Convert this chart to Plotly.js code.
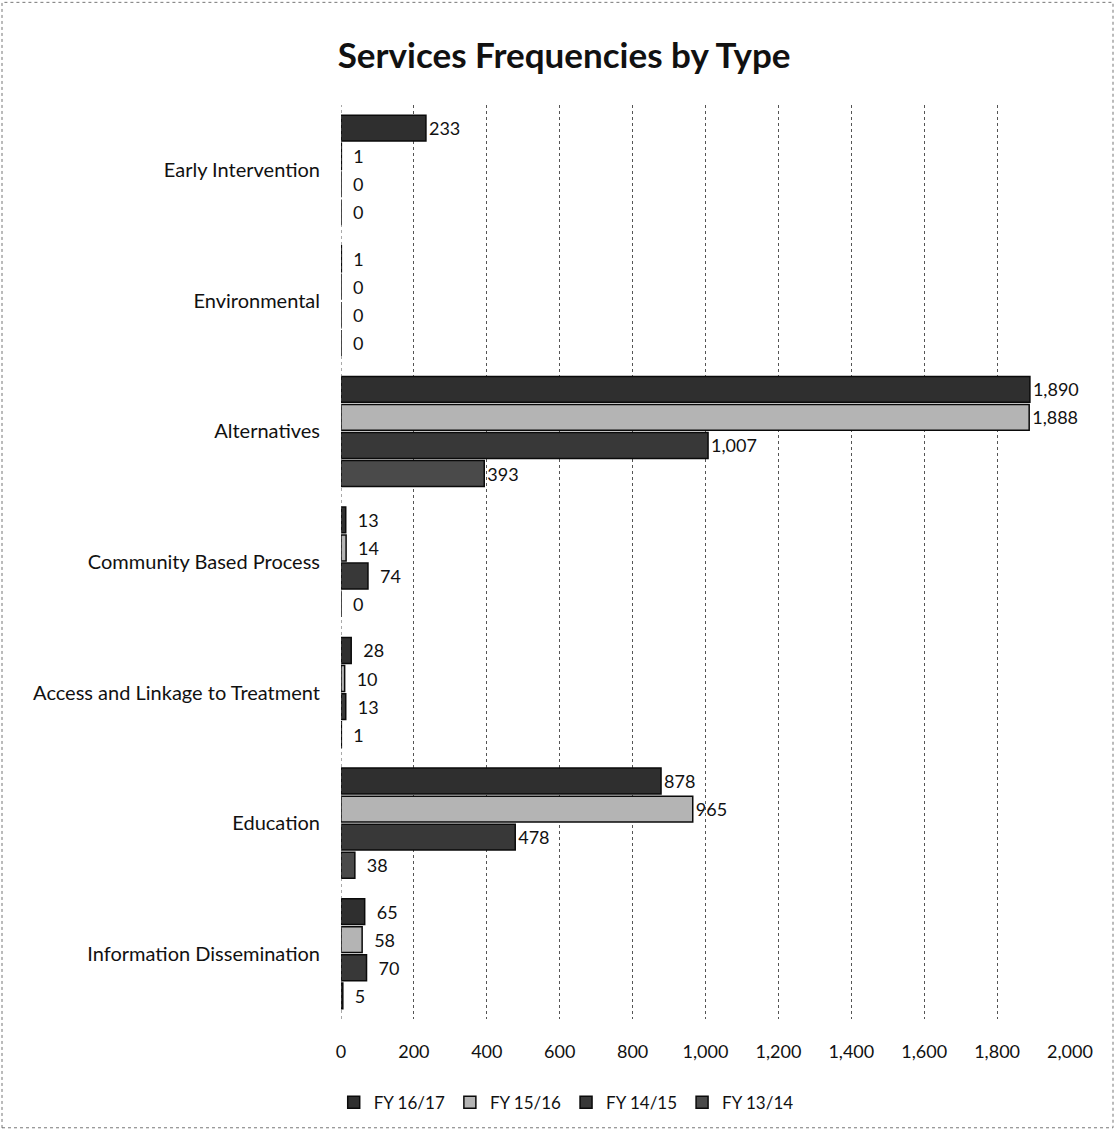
<!DOCTYPE html>
<html>
<head>
<meta charset="utf-8">
<script src="https://cdn.plot.ly/plotly-3.0.1.min.js"></script>
<style>
  html, body { margin: 0; padding: 0; background: #ffffff; }
  #chart { width: 1117px; height: 1133px; }
</style>
</head>
<body>
<div id="chart"></div>
<script>
// Service types, listed top to bottom
const categories = [
  "Early Intervention",
  "Environmental",
  "Alternatives",
  "Community Based Process",
  "Access and Linkage to Treatment",
  "Education",
  "Information Dissemination"
];

// Fiscal-year series (drawn top to bottom within each group)
const seriesNames = ["FY 16/17", "FY 15/16", "FY 14/15", "FY 13/14"];
const fy1617 = [233, 1, 1890, 13, 28, 878, 65];
const fy1516 = [1, 0, 1888, 14, 10, 965, 58];
const fy1415 = [0, 0, 1007, 74, 13, 478, 70];
const fy1314 = [0, 0, 393, 0, 1, 38, 5];

const xTicks = [0, 200, 400, 600, 800, 1000, 1200, 1400, 1600, 1800, 2000];

const seriesValues = [fy1617, fy1516, fy1415, fy1314];
const fills = ["#2f2f2f", "#b4b4b4", "#383838", "#4a4a4a"];

const baseFont = "Lato, 'Open Sans', 'DejaVu Sans', sans-serif";

// short bars get a little extra room before their value label
const labelFor = v => (v < 100 ? "\u2002" : "") + v.toLocaleString("en-US");

const traces = seriesNames.map((name, i) => ({
  type: "bar",
  orientation: "h",
  name: name,
  y: categories,
  x: seriesValues[i],
  text: seriesValues[i].map(labelFor),
  texttemplate: "%{text}",
  textposition: "outside",
  cliponaxis: false,
  textfont: { family: baseFont, size: 18, color: "#111111" },
  marker: {
    color: fills[i],
    line: { color: "#0a0a0a", width: 1.5 }
  },
  hoverinfo: "skip"
}));

const layout = {
  width: 1117,
  height: 1133,
  paper_bgcolor: "#ffffff",
  plot_bgcolor: "#ffffff",
  font: { family: baseFont, size: 17, color: "#111111" },
  title: {
    text: "<b>Services Frequencies by Type</b>",
    font: { family: baseFont, size: 35, color: "#111111" },
    x: 0.505,
    xanchor: "center",
    y: 0.951,
    yanchor: "middle"
  },
  margin: { l: 341, r: 47, t: 105, b: 111 },
  barmode: "group",
  bargap: 0.14,
  bargroupgap: 0.08,
  showlegend: true,
  legend: {
    orientation: "h",
    x: -0.01,
    xanchor: "left",
    y: -0.072,
    yanchor: "top",
    font: { family: baseFont, size: 17, color: "#111111" },
    traceorder: "normal",
    itemwidth: 30
  },
  xaxis: {
    range: [0, 2000],
    tickvals: xTicks,
    ticktext: xTicks.map(v => v.toLocaleString("en-US")),
    showgrid: true,
    gridcolor: "#555555",
    gridwidth: 1,
    griddash: "dot",
    zeroline: false,
    showline: false,
    ticks: "",
    ticklen: 0,
    ticklabelstandoff: 20,
    tickfont: { family: baseFont, size: 18, color: "#111111" },
    fixedrange: true
  },
  yaxis: {
    autorange: "reversed",
    showgrid: false,
    zeroline: false,
    showline: false,
    ticks: "",
    ticklabelstandoff: 20,
    tickfont: { family: baseFont, size: 20, color: "#111111" },
    fixedrange: true
  },
  shapes: [
    {
      // dotted frame round the whole chart
      type: "rect", xref: "paper", yref: "paper",
      x0: -0.4650, x1: 1.0590, y0: -0.1190, y1: 1.1123,
      line: { color: "#777777", width: 1, dash: "dot" }
    },
    {
      type: "line", xref: "x", yref: "paper",
      x0: 0, x1: 0, y0: 0, y1: 1,
      line: { color: "#555555", width: 1, dash: "dot" }
    }
  ]
};

Plotly.newPlot("chart", traces, layout, { displayModeBar: false, staticPlot: true });
</script>
</body>
</html>
